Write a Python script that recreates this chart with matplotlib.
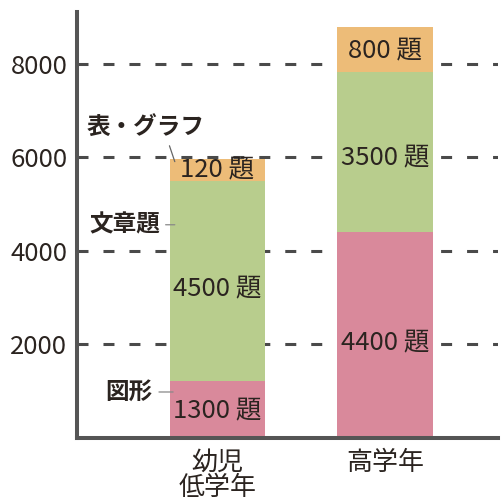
import matplotlib
matplotlib.use("Agg")
import matplotlib.pyplot as plt
import numpy as np

plt.rcParams['font.family'] = ['Noto Sans CJK JP', 'DejaVu Sans']

# data (bar heights) and the printed labels
groups = ["幼児\n低学年", "高学年"]
shape_vals = [1220, 4400]      # 図形
text_vals = [4280, 3430]       # 文章題
chart_vals = [470, 960]        # 表・グラフ
shape_labels = ["1300 題", "4400 題"]
text_labels = ["4500 題", "3500 題"]
chart_labels = ["120 題", "800 題"]
yticks = [2000, 4000, 6000, 8000]

colors = ["#D9899B", "#B8CD8D", "#EDBC78"]
grid_col = "#4a4a4a"
txt_col = "#2b2420"

fig = plt.figure(figsize=(5.01, 5.00), dpi=100)
ax = fig.add_axes([0.1537, 0.124, 0.8403, 0.852])

x = np.arange(len(groups))
w = 0.57
series = [shape_vals, text_vals, chart_vals]
labels = [shape_labels, text_labels, chart_labels]

# dashed gridlines behind the bars
for yv in yticks:
    ax.axhline(yv, color=grid_col, lw=2.2, ls=(0, (3.6, 4.9)), zorder=1)

bottom = np.zeros(len(groups))
for vals, labs, c in zip(series, labels, colors):
    vals = np.array(vals, dtype=float)
    ax.bar(x, vals, w, bottom=bottom, color=c, zorder=2)
    for xi, b, v, lab in zip(x, bottom, vals, labs):
        ax.text(xi, b + v * 0.46, lab, ha="center", va="center",
                fontsize=18.5, color=txt_col, zorder=3)
    bottom += vals

# leader labels on the left of the first bar
left_edge = x[0] - w / 2
ax.annotate("表・グラフ", xy=(left_edge + 0.03, bottom[0] - 60),
            xytext=(-0.075, 6650), ha="right", va="center",
            fontsize=17, fontweight="bold", color=txt_col,
            arrowprops=dict(arrowstyle="-", color="#666666", lw=0.9,
                            relpos=(0.68, 0), shrinkA=3, shrinkB=0))
ax.annotate("文章題", xy=(left_edge + 0.03, 4560),
            xytext=(-0.343, 4560), ha="right", va="center",
            fontsize=17, fontweight="bold", color=txt_col,
            arrowprops=dict(arrowstyle="-", color="#888888", lw=0.9,
                            relpos=(1, 0.5), shrinkA=2, shrinkB=0))
ax.annotate("図形", xy=(left_edge + 0.02, 984),
            xytext=(-0.391, 984), ha="right", va="center",
            fontsize=17, fontweight="bold", color=txt_col,
            arrowprops=dict(arrowstyle="-", color="#888888", lw=0.9,
                            relpos=(1, 0.5), shrinkA=3, shrinkB=0))

ax.set_xlim(-0.839, 1.675)
ax.set_ylim(0, 9110)
ax.set_yticks(yticks)
ax.set_yticklabels([str(v) for v in yticks], fontsize=18.5, color=txt_col)
ax.set_xticks(x)
ax.set_xticklabels(groups, fontsize=18.7, color=txt_col, linespacing=0.92)
ax.tick_params(axis="both", length=0)
ax.tick_params(axis="y", pad=7)
ax.tick_params(axis="x", pad=8)

for s in ["top", "right"]:
    ax.spines[s].set_visible(False)
for s in ["left", "bottom"]:
    ax.spines[s].set_color("#555555")
    ax.spines[s].set_linewidth(2.9)
    ax.spines[s].set_zorder(4)

fig.savefig("out.png", dpi=100, facecolor="white")
